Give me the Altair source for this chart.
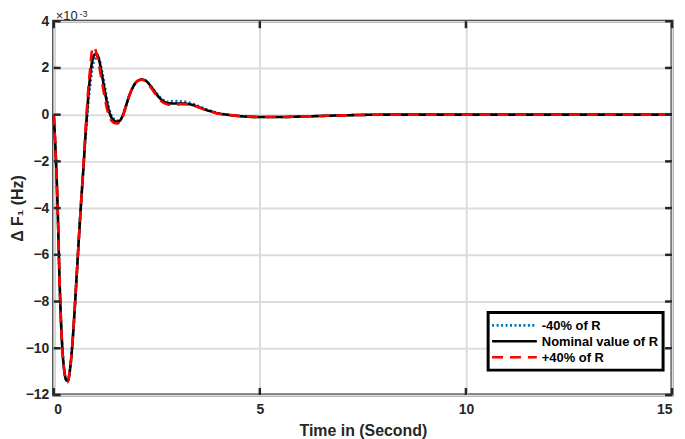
import altair as alt
import pandas as pd

# Time (s) and frequency deviation values (x 1e-3 Hz)
t = [0, 0.03, 0.06, 0.10, 0.14, 0.18, 0.22, 0.26, 0.30, 0.34, 0.38, 0.42, 0.47,
     0.52, 0.57, 0.62, 0.67, 0.72, 0.77, 0.83, 0.88, 0.93, 0.98, 1.04, 1.10,
     1.16, 1.22, 1.30, 1.38, 1.46, 1.53, 1.59, 1.66, 1.74, 1.82, 1.90, 1.98,
     2.06, 2.13, 2.20, 2.28, 2.36, 2.45, 2.55, 2.65, 2.75, 2.85, 2.95, 3.10,
     3.25, 3.40, 3.55, 3.70, 3.85, 4.00, 4.20, 4.50, 5.00, 5.50, 6.00, 7.00,
     8.00, 9.00, 10.0, 12.0, 15.0]

nominal = [0, -1.0, -2.2, -4.3, -7.0, -9.0, -10.3, -11.0, -11.35, -11.4, -11.1,
           -10.5, -9.4, -8.0, -6.5, -5.0, -3.6, -2.3, -0.9, 0.6, 1.6, 2.25, 2.55,
           2.6, 2.35, 1.8, 1.2, 0.45, -0.05, -0.25, -0.3, -0.28, -0.1, 0.3, 0.75,
           1.1, 1.35, 1.47, 1.5, 1.48, 1.38, 1.2, 0.98, 0.75, 0.58, 0.5, 0.48,
           0.48, 0.48, 0.46, 0.4, 0.3, 0.2, 0.12, 0.05, 0.0, -0.06, -0.1, -0.1,
           -0.08, -0.03, 0.0, 0.0, 0.0, 0.0, 0.0]

minus40 = [0, -1.0, -2.2, -4.3, -7.0, -9.0, -10.3, -11.0, -11.35, -11.4, -11.1,
           -10.5, -9.4, -8.0, -6.5, -5.0, -3.6, -2.3, -1.0, 0.3, 1.2, 1.9, 2.3,
           2.45, 2.4, 1.95, 1.4, 0.6, 0.05, -0.18, -0.25, -0.25, -0.08, 0.3, 0.75,
           1.1, 1.35, 1.47, 1.5, 1.48, 1.38, 1.22, 1.02, 0.8, 0.64, 0.55, 0.57,
           0.58, 0.57, 0.53, 0.45, 0.34, 0.23, 0.14, 0.06, 0.0, -0.06, -0.1, -0.1,
           -0.08, -0.03, 0.0, 0.0, 0.0, 0.0, 0.0]

plus40 = [0, -1.0, -2.2, -4.3, -7.0, -9.0, -10.3, -11.05, -11.4, -11.45, -11.1,
          -10.5, -9.4, -8.0, -6.5, -5.0, -3.6, -2.2, -0.7, 0.9, 1.9, 2.75, 2.9,
          2.6, 2.1, 1.5, 0.9, 0.2, -0.2, -0.35, -0.38, -0.33, -0.15, 0.28, 0.75,
          1.1, 1.35, 1.47, 1.5, 1.47, 1.35, 1.15, 0.92, 0.68, 0.52, 0.45, 0.42,
          0.43, 0.45, 0.44, 0.38, 0.29, 0.19, 0.11, 0.04, 0.0, -0.06, -0.1, -0.1,
          -0.08, -0.03, 0.0, 0.0, 0.0, 0.0, 0.0]

series_names = ["-40% of R", "Nominal value of R", "+40% of R"]
series_colors = ["#0072BD", "#000000", "#FF0000"]
series_dash = [[2, 2.5], [1, 0], [11, 7]]

x_ticks = [0, 5, 10, 15]
y_ticks = [-12, -10, -8, -6, -4, -2, 0, 2, 4]

rows = []
for name, vals in zip(series_names, [minus40, nominal, plus40]):
    for ti, vi in zip(t, vals):
        rows.append({"t": ti, "v": vi, "series": name})
df = pd.DataFrame(rows)

W, H = 622, 376
FONT = "Liberation Sans"

xscale = alt.Scale(domain=[0, 15], nice=False, zero=False)
yscale = alt.Scale(domain=[-12, 4], nice=False, zero=False)

lines = alt.Chart(df).mark_line(strokeWidth=2.6, interpolate="monotone").encode(
    x=alt.X("t:Q", scale=xscale,
            axis=alt.Axis(values=x_ticks, title="Time in (Second)", grid=True,
                          ticks=False, domain=False, labelPadding=8,
                          titlePadding=6)),
    y=alt.Y("v:Q", scale=yscale,
            axis=alt.Axis(values=y_ticks, title="\u0394 F\u2081 (Hz)", grid=True,
                          ticks=False, domain=False, labelPadding=5,
                          titlePadding=0)),
    color=alt.Color("series:N",
                    scale=alt.Scale(domain=series_names, range=series_colors),
                    legend=None),
    strokeDash=alt.StrokeDash("series:N",
                              scale=alt.Scale(domain=series_names, range=series_dash),
                              legend=None),
    detail="series:N",
)

# Legend (box, sample lines and labels)
LX0, LX1, LY0, LY1 = 437, 613, 293, 351
legend_layers = [
    alt.Chart(pd.DataFrame({"a": [0]})).mark_rect(
        fill="white", stroke="black", strokeWidth=3
    ).encode(x=alt.value(LX0), x2=alt.value(LX1), y=alt.value(LY0), y2=alt.value(LY1))
]
for i, (name, col, dash) in enumerate(zip(series_names, series_colors, series_dash)):
    yy = 306 + 16 * i
    legend_layers.append(
        alt.Chart(pd.DataFrame({"a": [0]})).mark_rule(
            color=col, strokeWidth=2.6, strokeDash=dash
        ).encode(x=alt.value(441), x2=alt.value(486), y=alt.value(yy))
    )
    legend_layers.append(
        alt.Chart(pd.DataFrame({"s": [name]})).mark_text(
            font=FONT, fontSize=13, fontWeight="bold", align="left",
            baseline="middle", color="#000000"
        ).encode(text="s:N", x=alt.value(491), y=alt.value(yy + 1))
    )

yt = pd.DataFrame({"y": y_ticks})
xt = pd.DataFrame({"x": x_ticks})
tick_style = dict(color="#262626", strokeWidth=2.5)
ytick_l = alt.Chart(yt).mark_rule(**tick_style).encode(
    y=alt.Y("y:Q", scale=yscale), x=alt.value(0), x2=alt.value(7))
ytick_r = alt.Chart(yt).mark_rule(**tick_style).encode(
    y=alt.Y("y:Q", scale=yscale), x=alt.value(W - 7), x2=alt.value(W))
xtick_b = alt.Chart(xt).mark_rule(**tick_style).encode(
    x=alt.X("x:Q", scale=xscale), y=alt.value(H - 7), y2=alt.value(H))
xtick_t = alt.Chart(xt).mark_rule(**tick_style).encode(
    x=alt.X("x:Q", scale=xscale), y=alt.value(0), y2=alt.value(7))

exp_base = alt.Chart(pd.DataFrame({"s": ["\u00d710"]})).mark_text(
    font=FONT, fontSize=13, align="left", baseline="alphabetic", color="#262626"
).encode(text="s:N", x=alt.value(2), y=alt.value(-1))
exp_sup = alt.Chart(pd.DataFrame({"s": ["-3"]})).mark_text(
    font=FONT, fontSize=9, align="left", baseline="top", color="#262626"
).encode(text="s:N", x=alt.value(26), y=alt.value(-11))

chart = alt.layer(
    lines, ytick_l, ytick_r, xtick_b, xtick_t, exp_base, exp_sup, *legend_layers
).properties(
    width=W, height=H,
    autosize=alt.AutoSizeParams(type="none"),
    padding={"left": 46, "top": 12, "right": 5, "bottom": 45},
).configure_view(
    stroke="#262626", strokeWidth=3
).configure_axis(
    gridColor="#dcdcdc", gridWidth=2,
    labelFont=FONT, labelFontWeight="bold", labelFontSize=14, labelColor="#262626",
    titleFont=FONT, titleFontWeight="bold", titleFontSize=16, titleColor="#262626",
)

chart.save("out.html", embed_options={"renderer": "svg", "actions": False})
